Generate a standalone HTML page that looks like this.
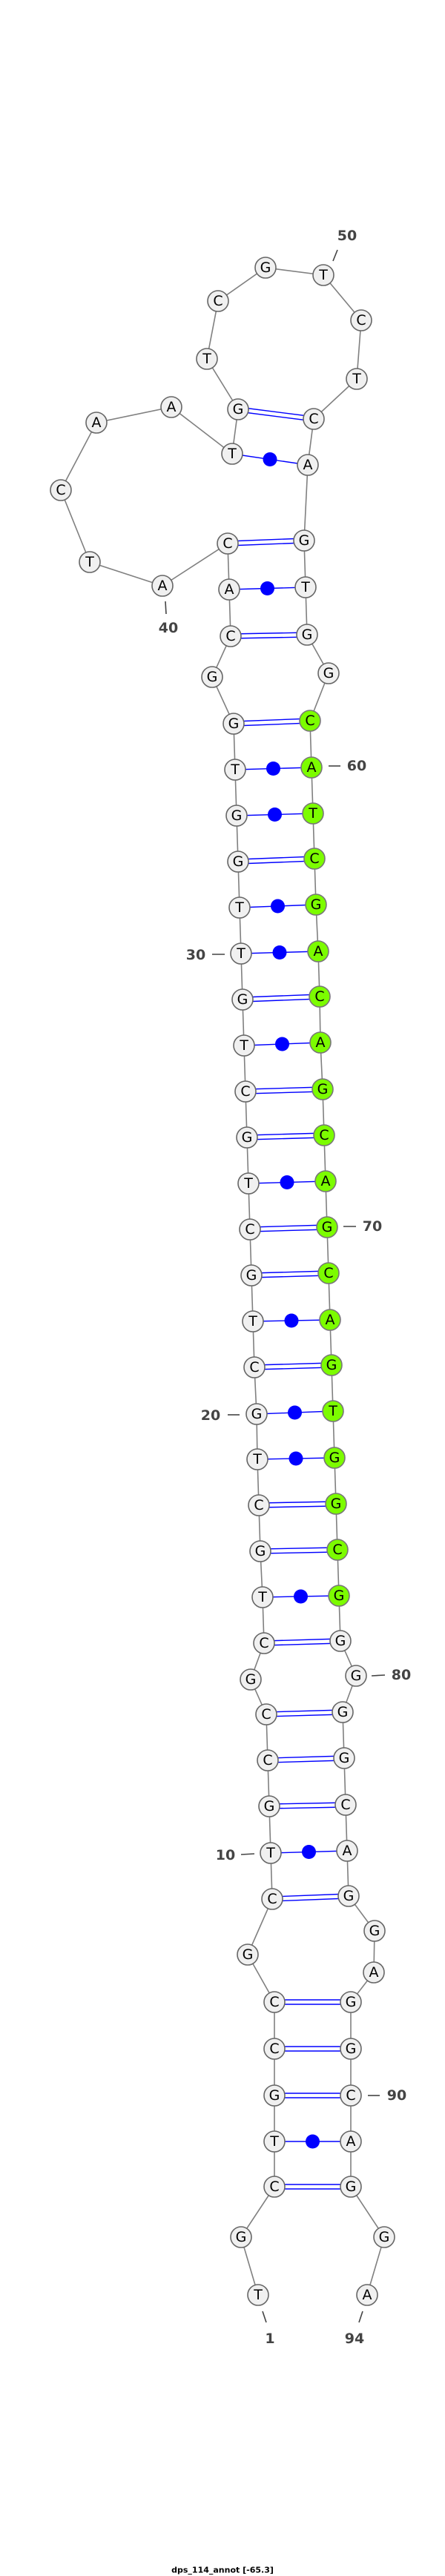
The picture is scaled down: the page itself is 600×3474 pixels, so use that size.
<!DOCTYPE html>
<html><head><meta charset="utf-8"><style>
html,body{margin:0;padding:0;background:#fff;}
svg{display:block;}
.n{fill:#f0f0f0;stroke:#666;stroke-width:1.6;}
.g{fill:#7cfc00;stroke:#777;stroke-width:1.6;}
.t{font-family:"DejaVu Sans","Liberation Sans",sans-serif;font-size:19px;text-anchor:middle;dominant-baseline:central;fill:#000;}
.l{font-family:"DejaVu Sans","Liberation Sans",sans-serif;font-size:19px;font-weight:bold;fill:#444;text-anchor:middle;dominant-baseline:central;}
.tk{stroke:#444;stroke-width:1.6;}
.d{stroke:#0000ff;stroke-width:1.4;}
</style></head><body>
<svg width="600" height="3474" viewBox="0 0 600 3474" xmlns="http://www.w3.org/2000/svg">
<polyline fill="none" stroke="#808080" stroke-width="1.6" points="348,3095 325,3017 370,2949 370,2888 370,2826 370,2763 370,2700 334,2636 367,2561 365,2499 363,2436 361,2374 359,2312 338,2265 356,2216 354,2154 351,2092 349,2030 347,1968 346,1907 343,1844 341,1782 339,1720 337,1658 335,1596 333,1534 331,1472 329,1410 327,1348 325,1286 323,1224 321,1162 319,1100 317,1038 315,976 286,913 311,858 309,795 307,733 219,790 121,758 82,661 130,570 231,549 313,612 321,552 279,484 294,406 358,361 436,371 487,432 481,511 423,565 415,627 410,729 412,792 414,856 443,908 418,972 420,1035 422,1097 424,1158 426,1220 429,1283 431,1344 432,1406 435,1469 437,1531 439,1593 441,1655 443,1717 445,1780 447,1841 449,1903 451,1966 453,2028 455,2090 457,2152 459,2213 480,2260 462,2309 464,2371 466,2434 468,2496 470,2557 505,2604 504,2660 473,2700 473,2763 473,2826 473,2888 473,2949 518,3017 495,3095"/>
<g class="d">
<line x1="370" y1="2946" x2="473" y2="2946"/><line x1="370" y1="2952" x2="473" y2="2952"/>
<line x1="370" y1="2888" x2="473" y2="2888"/>
<line x1="370" y1="2823" x2="473" y2="2823"/><line x1="370" y1="2829" x2="473" y2="2829"/>
<line x1="370" y1="2760" x2="473" y2="2760"/><line x1="370" y1="2766" x2="473" y2="2766"/>
<line x1="370" y1="2697" x2="473" y2="2697"/><line x1="370" y1="2703" x2="473" y2="2703"/>
<line x1="367" y1="2558" x2="470" y2="2554"/><line x1="367" y1="2564" x2="470" y2="2560"/>
<line x1="365" y1="2499" x2="468" y2="2496"/>
<line x1="363" y1="2433" x2="466" y2="2431"/><line x1="363" y1="2439" x2="466" y2="2437"/>
<line x1="361" y1="2371" x2="464" y2="2368"/><line x1="361" y1="2377" x2="464" y2="2374"/>
<line x1="359" y1="2309" x2="462" y2="2306"/><line x1="359" y1="2315" x2="462" y2="2312"/>
<line x1="356" y1="2213" x2="459" y2="2210"/><line x1="356" y1="2219" x2="459" y2="2216"/>
<line x1="354" y1="2154" x2="457" y2="2152"/>
<line x1="351" y1="2089" x2="455" y2="2087"/><line x1="351" y1="2095" x2="455" y2="2093"/>
<line x1="349" y1="2027" x2="453" y2="2025"/><line x1="349" y1="2033" x2="453" y2="2031"/>
<line x1="347" y1="1968" x2="451" y2="1966"/>
<line x1="346" y1="1907" x2="449" y2="1903"/>
<line x1="343" y1="1841" x2="447" y2="1838"/><line x1="343" y1="1847" x2="447" y2="1844"/>
<line x1="341" y1="1782" x2="445" y2="1780"/>
<line x1="339" y1="1717" x2="443" y2="1714"/><line x1="339" y1="1723" x2="443" y2="1720"/>
<line x1="337" y1="1655" x2="441" y2="1652"/><line x1="337" y1="1661" x2="441" y2="1658"/>
<line x1="335" y1="1596" x2="439" y2="1593"/>
<line x1="333" y1="1531" x2="437" y2="1528"/><line x1="333" y1="1537" x2="437" y2="1534"/>
<line x1="331" y1="1469" x2="435" y2="1466"/><line x1="331" y1="1475" x2="435" y2="1472"/>
<line x1="329" y1="1410" x2="432" y2="1406"/>
<line x1="327" y1="1345" x2="431" y2="1341"/><line x1="327" y1="1351" x2="431" y2="1347"/>
<line x1="325" y1="1286" x2="429" y2="1283"/>
<line x1="323" y1="1224" x2="426" y2="1220"/>
<line x1="321" y1="1159" x2="424" y2="1155"/><line x1="321" y1="1165" x2="424" y2="1161"/>
<line x1="319" y1="1100" x2="422" y2="1097"/>
<line x1="317" y1="1038" x2="420" y2="1035"/>
<line x1="315" y1="973" x2="418" y2="969"/><line x1="315" y1="979" x2="418" y2="975"/>
<line x1="311" y1="855" x2="414" y2="853"/><line x1="311" y1="861" x2="414" y2="859"/>
<line x1="309" y1="795" x2="412" y2="792"/>
<line x1="307" y1="730" x2="410" y2="726"/><line x1="307" y1="736" x2="410" y2="732"/>
<line x1="313" y1="612" x2="415" y2="627"/>
<line x1="321" y1="549" x2="423" y2="562"/><line x1="321" y1="555" x2="423" y2="568"/>
</g>
<g fill="#0000ff">
<circle cx="421.5" cy="2888" r="9.5"/><circle cx="416.5" cy="2497.5" r="9.5"/><circle cx="405.5" cy="2153" r="9.5"/><circle cx="399" cy="1967" r="9.5"/><circle cx="397.5" cy="1905" r="9.5"/><circle cx="393" cy="1781" r="9.5"/><circle cx="387" cy="1594.5" r="9.5"/><circle cx="380.5" cy="1408" r="9.5"/><circle cx="377" cy="1284.5" r="9.5"/><circle cx="374.5" cy="1222" r="9.5"/><circle cx="370.5" cy="1098.5" r="9.5"/><circle cx="368.5" cy="1036.5" r="9.5"/><circle cx="360.5" cy="793.5" r="9.5"/><circle cx="364" cy="619.5" r="9.5"/>
</g>
<g>
<circle class="n" cx="348" cy="3095" r="14"/><text class="t" x="348" y="3095">T</text>
<circle class="n" cx="325" cy="3017" r="14"/><text class="t" x="325" y="3017">G</text>
<circle class="n" cx="370" cy="2949" r="14"/><text class="t" x="370" y="2949">C</text>
<circle class="n" cx="370" cy="2888" r="14"/><text class="t" x="370" y="2888">T</text>
<circle class="n" cx="370" cy="2826" r="14"/><text class="t" x="370" y="2826">G</text>
<circle class="n" cx="370" cy="2763" r="14"/><text class="t" x="370" y="2763">C</text>
<circle class="n" cx="370" cy="2700" r="14"/><text class="t" x="370" y="2700">C</text>
<circle class="n" cx="334" cy="2636" r="14"/><text class="t" x="334" y="2636">G</text>
<circle class="n" cx="367" cy="2561" r="14"/><text class="t" x="367" y="2561">C</text>
<circle class="n" cx="365" cy="2499" r="14"/><text class="t" x="365" y="2499">T</text>
<circle class="n" cx="363" cy="2436" r="14"/><text class="t" x="363" y="2436">G</text>
<circle class="n" cx="361" cy="2374" r="14"/><text class="t" x="361" y="2374">C</text>
<circle class="n" cx="359" cy="2312" r="14"/><text class="t" x="359" y="2312">C</text>
<circle class="n" cx="338" cy="2265" r="14"/><text class="t" x="338" y="2265">G</text>
<circle class="n" cx="356" cy="2216" r="14"/><text class="t" x="356" y="2216">C</text>
<circle class="n" cx="354" cy="2154" r="14"/><text class="t" x="354" y="2154">T</text>
<circle class="n" cx="351" cy="2092" r="14"/><text class="t" x="351" y="2092">G</text>
<circle class="n" cx="349" cy="2030" r="14"/><text class="t" x="349" y="2030">C</text>
<circle class="n" cx="347" cy="1968" r="14"/><text class="t" x="347" y="1968">T</text>
<circle class="n" cx="346" cy="1907" r="14"/><text class="t" x="346" y="1907">G</text>
<circle class="n" cx="343" cy="1844" r="14"/><text class="t" x="343" y="1844">C</text>
<circle class="n" cx="341" cy="1782" r="14"/><text class="t" x="341" y="1782">T</text>
<circle class="n" cx="339" cy="1720" r="14"/><text class="t" x="339" y="1720">G</text>
<circle class="n" cx="337" cy="1658" r="14"/><text class="t" x="337" y="1658">C</text>
<circle class="n" cx="335" cy="1596" r="14"/><text class="t" x="335" y="1596">T</text>
<circle class="n" cx="333" cy="1534" r="14"/><text class="t" x="333" y="1534">G</text>
<circle class="n" cx="331" cy="1472" r="14"/><text class="t" x="331" y="1472">C</text>
<circle class="n" cx="329" cy="1410" r="14"/><text class="t" x="329" y="1410">T</text>
<circle class="n" cx="327" cy="1348" r="14"/><text class="t" x="327" y="1348">G</text>
<circle class="n" cx="325" cy="1286" r="14"/><text class="t" x="325" y="1286">T</text>
<circle class="n" cx="323" cy="1224" r="14"/><text class="t" x="323" y="1224">T</text>
<circle class="n" cx="321" cy="1162" r="14"/><text class="t" x="321" y="1162">G</text>
<circle class="n" cx="319" cy="1100" r="14"/><text class="t" x="319" y="1100">G</text>
<circle class="n" cx="317" cy="1038" r="14"/><text class="t" x="317" y="1038">T</text>
<circle class="n" cx="315" cy="976" r="14"/><text class="t" x="315" y="976">G</text>
<circle class="n" cx="286" cy="913" r="14"/><text class="t" x="286" y="913">G</text>
<circle class="n" cx="311" cy="858" r="14"/><text class="t" x="311" y="858">C</text>
<circle class="n" cx="309" cy="795" r="14"/><text class="t" x="309" y="795">A</text>
<circle class="n" cx="307" cy="733" r="14"/><text class="t" x="307" y="733">C</text>
<circle class="n" cx="219" cy="790" r="14"/><text class="t" x="219" y="790">A</text>
<circle class="n" cx="121" cy="758" r="14"/><text class="t" x="121" y="758">T</text>
<circle class="n" cx="82" cy="661" r="14"/><text class="t" x="82" y="661">C</text>
<circle class="n" cx="130" cy="570" r="14"/><text class="t" x="130" y="570">A</text>
<circle class="n" cx="231" cy="549" r="14"/><text class="t" x="231" y="549">A</text>
<circle class="n" cx="313" cy="612" r="14"/><text class="t" x="313" y="612">T</text>
<circle class="n" cx="321" cy="552" r="14"/><text class="t" x="321" y="552">G</text>
<circle class="n" cx="279" cy="484" r="14"/><text class="t" x="279" y="484">T</text>
<circle class="n" cx="294" cy="406" r="14"/><text class="t" x="294" y="406">C</text>
<circle class="n" cx="358" cy="361" r="14"/><text class="t" x="358" y="361">G</text>
<circle class="n" cx="436" cy="371" r="14"/><text class="t" x="436" y="371">T</text>
<circle class="n" cx="487" cy="432" r="14"/><text class="t" x="487" y="432">C</text>
<circle class="n" cx="481" cy="511" r="14"/><text class="t" x="481" y="511">T</text>
<circle class="n" cx="423" cy="565" r="14"/><text class="t" x="423" y="565">C</text>
<circle class="n" cx="415" cy="627" r="14"/><text class="t" x="415" y="627">A</text>
<circle class="n" cx="410" cy="729" r="14"/><text class="t" x="410" y="729">G</text>
<circle class="n" cx="412" cy="792" r="14"/><text class="t" x="412" y="792">T</text>
<circle class="n" cx="414" cy="856" r="14"/><text class="t" x="414" y="856">G</text>
<circle class="n" cx="443" cy="908" r="14"/><text class="t" x="443" y="908">G</text>
<circle class="g" cx="418" cy="972" r="14"/><text class="t" x="418" y="972">C</text>
<circle class="g" cx="420" cy="1035" r="14"/><text class="t" x="420" y="1035">A</text>
<circle class="g" cx="422" cy="1097" r="14"/><text class="t" x="422" y="1097">T</text>
<circle class="g" cx="424" cy="1158" r="14"/><text class="t" x="424" y="1158">C</text>
<circle class="g" cx="426" cy="1220" r="14"/><text class="t" x="426" y="1220">G</text>
<circle class="g" cx="429" cy="1283" r="14"/><text class="t" x="429" y="1283">A</text>
<circle class="g" cx="431" cy="1344" r="14"/><text class="t" x="431" y="1344">C</text>
<circle class="g" cx="432" cy="1406" r="14"/><text class="t" x="432" y="1406">A</text>
<circle class="g" cx="435" cy="1469" r="14"/><text class="t" x="435" y="1469">G</text>
<circle class="g" cx="437" cy="1531" r="14"/><text class="t" x="437" y="1531">C</text>
<circle class="g" cx="439" cy="1593" r="14"/><text class="t" x="439" y="1593">A</text>
<circle class="g" cx="441" cy="1655" r="14"/><text class="t" x="441" y="1655">G</text>
<circle class="g" cx="443" cy="1717" r="14"/><text class="t" x="443" y="1717">C</text>
<circle class="g" cx="445" cy="1780" r="14"/><text class="t" x="445" y="1780">A</text>
<circle class="g" cx="447" cy="1841" r="14"/><text class="t" x="447" y="1841">G</text>
<circle class="g" cx="449" cy="1903" r="14"/><text class="t" x="449" y="1903">T</text>
<circle class="g" cx="451" cy="1966" r="14"/><text class="t" x="451" y="1966">G</text>
<circle class="g" cx="453" cy="2028" r="14"/><text class="t" x="453" y="2028">G</text>
<circle class="g" cx="455" cy="2090" r="14"/><text class="t" x="455" y="2090">C</text>
<circle class="g" cx="457" cy="2152" r="14"/><text class="t" x="457" y="2152">G</text>
<circle class="n" cx="459" cy="2213" r="14"/><text class="t" x="459" y="2213">G</text>
<circle class="n" cx="480" cy="2260" r="14"/><text class="t" x="480" y="2260">G</text>
<circle class="n" cx="462" cy="2309" r="14"/><text class="t" x="462" y="2309">G</text>
<circle class="n" cx="464" cy="2371" r="14"/><text class="t" x="464" y="2371">G</text>
<circle class="n" cx="466" cy="2434" r="14"/><text class="t" x="466" y="2434">C</text>
<circle class="n" cx="468" cy="2496" r="14"/><text class="t" x="468" y="2496">A</text>
<circle class="n" cx="470" cy="2557" r="14"/><text class="t" x="470" y="2557">G</text>
<circle class="n" cx="505" cy="2604" r="14"/><text class="t" x="505" y="2604">G</text>
<circle class="n" cx="504" cy="2660" r="14"/><text class="t" x="504" y="2660">A</text>
<circle class="n" cx="473" cy="2700" r="14"/><text class="t" x="473" y="2700">G</text>
<circle class="n" cx="473" cy="2763" r="14"/><text class="t" x="473" y="2763">G</text>
<circle class="n" cx="473" cy="2826" r="14"/><text class="t" x="473" y="2826">C</text>
<circle class="n" cx="473" cy="2888" r="14"/><text class="t" x="473" y="2888">A</text>
<circle class="n" cx="473" cy="2949" r="14"/><text class="t" x="473" y="2949">G</text>
<circle class="n" cx="518" cy="3017" r="14"/><text class="t" x="518" y="3017">G</text>
<circle class="n" cx="495" cy="3095" r="14"/><text class="t" x="495" y="3095">A</text>
</g>
<g>
<line class="tk" x1="455" y1="337" x2="449" y2="352"/><text class="l" x="468" y="318">50</text>
<line class="tk" x1="223" y1="811" x2="224" y2="828"/><text class="l" x="227" y="847">40</text>
<line class="tk" x1="443" y1="1033" x2="459" y2="1033"/><text class="l" x="481" y="1033">60</text>
<line class="tk" x1="286" y1="1287" x2="303" y2="1287"/><text class="l" x="264" y="1288">30</text>
<line class="tk" x1="463" y1="1654" x2="480" y2="1654"/><text class="l" x="502" y="1654">70</text>
<line class="tk" x1="307" y1="1908" x2="323" y2="1908"/><text class="l" x="284" y="1909">20</text>
<line class="tk" x1="501" y1="2260" x2="519" y2="2259"/><text class="l" x="541" y="2259">80</text>
<line class="tk" x1="325" y1="2501" x2="343" y2="2500"/><text class="l" x="304" y="2502">10</text>
<line class="tk" x1="496" y1="2826" x2="512" y2="2826"/><text class="l" x="535" y="2826">90</text>
<line class="tk" x1="354" y1="3117" x2="359" y2="3132"/><text class="l" x="364" y="3154">1</text>
<line class="tk" x1="489" y1="3117" x2="484" y2="3132"/><text class="l" x="478" y="3154">94</text>
</g>
<text x="300" y="3466" font-family="'DejaVu Sans','Liberation Sans',sans-serif" font-size="11" font-weight="bold" fill="#000" text-anchor="middle" dominant-baseline="central">dps_114_annot [-65.3]</text>
</svg>
</body></html>
